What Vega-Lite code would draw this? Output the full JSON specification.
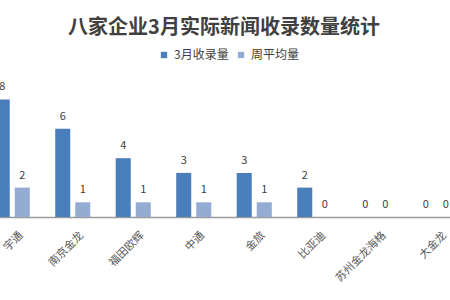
{
  "$schema": "https://vega.github.io/schema/vega-lite/v6.json",
  "autosize": "none",
  "width": 484,
  "height": 147,
  "padding": {"left": -18, "top": 70, "right": -16, "bottom": 83},
  "background": "white",
  "config": {
    "view": {"stroke": null},
    "font": "Noto Sans CJK SC"
  },
  "title": {
    "text": "八家企业3月实际新闻收录数量统计",
    "fontSize": 20,
    "fontWeight": "bold",
    "color": "#404040",
    "anchor": "middle",
    "frame": "group",
    "offset": 11
  },
  "data": {
    "values": [
      {"company": "宇通", "series": "3月收录量", "value": 8},
      {"company": "宇通", "series": "周平均量", "value": 2},
      {"company": "南京金龙", "series": "3月收录量", "value": 6},
      {"company": "南京金龙", "series": "周平均量", "value": 1},
      {"company": "福田欧辉", "series": "3月收录量", "value": 4},
      {"company": "福田欧辉", "series": "周平均量", "value": 1},
      {"company": "中通", "series": "3月收录量", "value": 3},
      {"company": "中通", "series": "周平均量", "value": 1},
      {"company": "金旅", "series": "3月收录量", "value": 3},
      {"company": "金旅", "series": "周平均量", "value": 1},
      {"company": "比亚迪", "series": "3月收录量", "value": 2},
      {"company": "比亚迪", "series": "周平均量", "value": 0},
      {"company": "苏州金龙海格", "series": "3月收录量", "value": 0},
      {"company": "苏州金龙海格", "series": "周平均量", "value": 0},
      {"company": "大金龙", "series": "3月收录量", "value": 0},
      {"company": "大金龙", "series": "周平均量", "value": 0}
    ]
  },
  "encoding": {
    "x": {
      "field": "company",
      "type": "nominal",
      "sort": null,
      "scale": {"paddingInner": 0.42, "paddingOuter": 0.21},
      "axis": {
        "title": null,
        "labelAngle": -45,
        "labelFontSize": 11,
        "labelColor": "#595959",
        "labelPadding": 12,
        "labelOffset": 5,
        "ticks": false,
        "domainColor": "#9a9a9a",
        "domainWidth": 1.5
      }
    },
    "xOffset": {
      "field": "series",
      "type": "nominal",
      "sort": ["3月收录量", "周平均量"],
      "scale": {"paddingInner": 0.25}
    },
    "y": {
      "field": "value",
      "type": "quantitative",
      "scale": {"domain": [0, 10]},
      "axis": null
    }
  },
  "layer": [
    {
      "mark": {"type": "bar"},
      "encoding": {
        "color": {
          "field": "series",
          "type": "nominal",
          "scale": {"domain": ["3月收录量", "周平均量"], "range": ["#4A7EBB", "#94ABD2"]},
          "legend": {
            "title": null,
            "orient": "none",
            "direction": "horizontal",
            "legendX": 176,
            "legendY": -21,
            "symbolType": "square",
            "symbolSize": 40,
            "symbolStrokeWidth": 0,
            "labelFontSize": 12,
            "labelColor": "#404040",
            "labelOffset": 4,
            "columnPadding": 6
          }
        }
      }
    },
    {
      "mark": {"type": "text", "baseline": "bottom", "dy": -7, "fontSize": 11, "color": "#404040"},
      "encoding": {
        "text": {"field": "value", "type": "quantitative"}
      }
    }
  ]
}
